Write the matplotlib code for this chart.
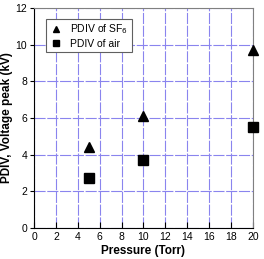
import matplotlib
matplotlib.use("Agg")
import matplotlib.pyplot as plt

plt.rcParams['font.family'] = ['Liberation Sans', 'DejaVu Sans']

# data
pressure = [5, 10, 20]
pdiv_sf6 = [4.4, 6.1, 9.7]
pdiv_air = [2.7, 3.7, 5.5]

xticks = list(range(0, 21, 2))
yticks = list(range(0, 13, 2))

fig = plt.figure(figsize=(2.64, 2.59), dpi=100)
ax = fig.add_axes([0.129, 0.120, 0.829, 0.849])

ax.plot(pressure, pdiv_sf6, '^', color='black', markersize=7.5, label='PDIV of SF$_6$', clip_on=False, zorder=3)
ax.plot(pressure, pdiv_air, 's', color='black', markersize=7.5, label='PDIV of air', clip_on=False, zorder=3)

ax.set_xlim(0, 20)
ax.set_ylim(0, 12)
ax.set_xticks(xticks)
ax.set_yticks(yticks)
ax.grid(True, color='#8a84ee', linestyle=(0, (10, 1.5)), linewidth=0.8)
ax.set_axisbelow(True)

for side in ['top', 'right']:
    ax.spines[side].set_color('#808080')
ax.tick_params(axis='x', direction='in', length=4, labelsize=7.5, pad=3)
ax.tick_params(axis='y', direction='out', length=3, labelsize=7.5, pad=2)

ax.set_xlabel('Pressure (Torr)', fontsize=8.5, fontweight='bold', labelpad=2)
ax.set_ylabel('PDIV, Voltage peak (kV)', fontsize=8.5, fontweight='bold', labelpad=2)

leg = ax.legend(loc='upper left', fontsize=7.5, frameon=True, fancybox=False,
                edgecolor='#606060', framealpha=1, borderpad=0.35, handletextpad=0.8,
                labelspacing=0.25, handlelength=1.2, markerscale=0.65,
                bbox_to_anchor=(0.03, 0.975))
leg.get_frame().set_linewidth(0.8)

fig.savefig('out.png', dpi=100)
